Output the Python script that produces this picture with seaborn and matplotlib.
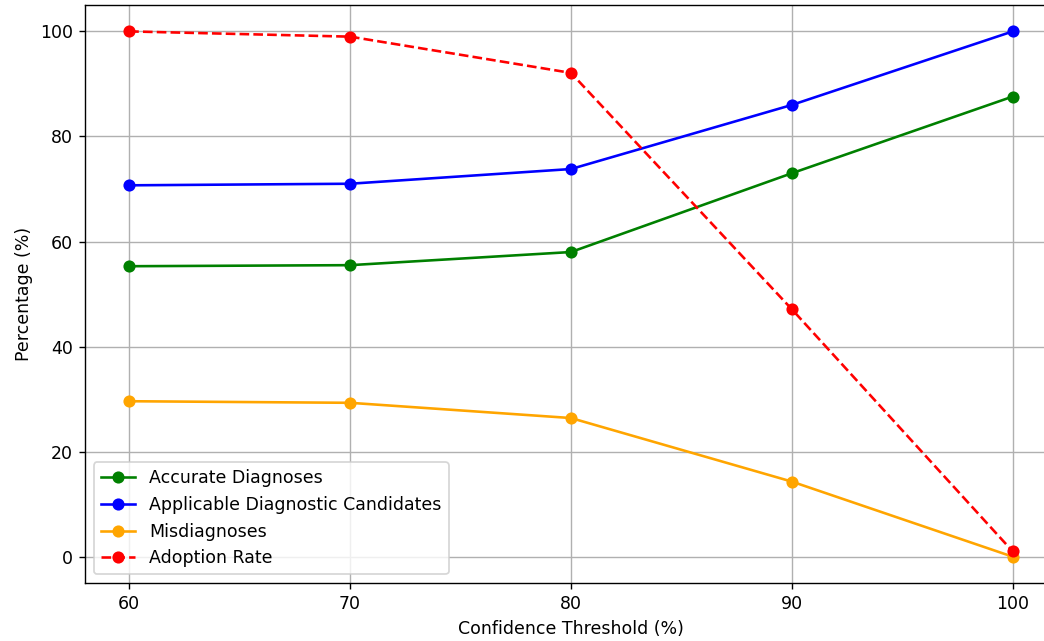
import pandas as pd
import seaborn as sns
import matplotlib
matplotlib.use("Agg")
import matplotlib.pyplot as plt

thresholds = [60, 70, 80, 90, 100]
accurate = [55.3, 55.5, 58.0, 73.0, 87.6]
applicable = [70.7, 71.0, 73.8, 86.0, 100.0]
misdiagnoses = [29.6, 29.3, 26.4, 14.3, 0.0]
adoption = [100.0, 99.0, 92.1, 47.1, 1.0]

series = [
    ("Accurate Diagnoses", accurate, "green", "-"),
    ("Applicable Diagnostic Candidates", applicable, "blue", "-"),
    ("Misdiagnoses", misdiagnoses, "orange", "-"),
    ("Adoption Rate", adoption, "red", "--"),
]

# the reference is a cropped view: the right part of the axes is cut off
dpi = 125
fig = plt.figure(figsize=(1044 / dpi, 641 / dpi), dpi=dpi)
ax = fig.add_axes([0.0814, 0.0905, 0.931, 0.9015])

for name, vals, color, ls in series:
    df = pd.DataFrame({"x": thresholds, "y": vals})
    sns.lineplot(data=df, x="x", y="y", ax=ax, color=color, linestyle=ls,
                 marker="o", markersize=7, markeredgewidth=0, label=name)

ax.set_xticks(thresholds)
ax.set_xlabel("Confidence Threshold (%)")
ax.set_ylabel("Percentage (%)")
ax.grid(True)
ax.legend(loc="lower left")

fig.savefig("out.png", dpi=dpi)
